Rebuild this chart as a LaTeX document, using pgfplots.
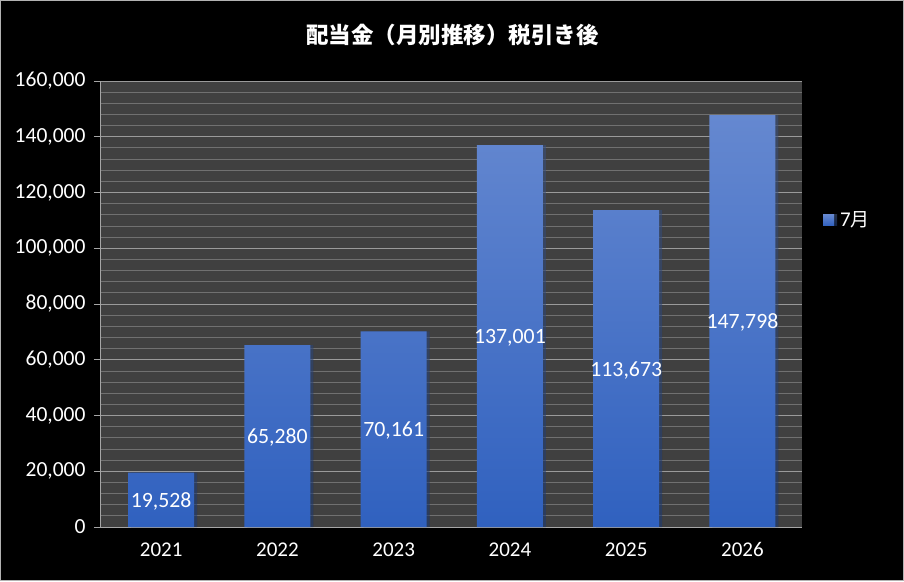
\documentclass[border=0pt]{standalone}
\usepackage{pgfplots}
\pgfplotsset{compat=1.18}
\usepackage{fontspec}
\setmainfont{Carlito}
\newfontfamily\cjk{Noto Sans CJK JP}
\definecolor{plotbg}{HTML}{404040}
\definecolor{gridmaj}{HTML}{9A9A9A}
\definecolor{gridmin}{HTML}{707070}
\definecolor{axisgray}{HTML}{A6A6A6}
\definecolor{bartop}{HTML}{6588D0}
\definecolor{barbot}{HTML}{3061BF}
\begin{document}
\begin{tikzpicture}[x=1pt,y=1pt]
\fill[black] (0,0) rectangle (904,581);
\draw[gray!60, line width=0.8pt] (0.4,0.4) rectangle (903.6,580.6);
\useasboundingbox (0,0) rectangle (904,581);
\node[text=white, font=\fontsize{22.5}{27}\selectfont\cjk\bfseries, inner sep=0pt] at (452.5,546.5) {配当金（月別推移）税引き後};
\begin{axis}[
  at={(100pt,54pt)}, anchor=south west,
  scale only axis, width=702pt, height=446pt,
  xmin=-0.526, xmax=5.512,
  ymin=0, ymax=160000,
  ytick={0,20000,...,160000},
  minor y tick num=4,
  xtick={0,1,2,3,4,5},
  xticklabels={2021,2022,2023,2024,2025,2026},
  scaled y ticks=false,
  axis background/.style={fill=plotbg},
  axis lines=left,
  axis line style={draw=axisgray, line width=0.9pt, -},
  ymajorgrids, yminorgrids,
  major grid style={draw=gridmaj, line width=0.8pt},
  minor grid style={draw=gridmin, line width=0.8pt},
  tick align=outside,
  major tick length=6pt,
  minor tick length=0pt,
  ytick style={draw=axisgray, line width=0.8pt},
  xtick style={draw=none},
  /pgf/number format/assume math mode=true,
  yticklabel style={text=white, xshift=-5pt, font=\fontsize{21.5}{25}\selectfont, /pgf/number format/.cd, fixed, 1000 sep={,}},
  xticklabel style={text=white, yshift=-6pt, font=\fontsize{21}{25}\selectfont},
  legend style={at={(1,0.688)}, anchor=west, xshift=18pt, draw=none, fill=none, text=white, font=\fontsize{21}{25}\selectfont, legend cell align=left},
  legend image code/.code={\fill[top color=bartop, bottom color=barbot] (0pt,-5.5pt) rectangle (11pt,5.5pt);},
]
\addplot[ybar, bar width=66pt, draw=none, top color=bartop, bottom color=barbot,
  preaction={fill=black, opacity=0.35, transform canvas={shift={(3pt,0pt)}}},
  visualization depends on={rawy/2 \as \myhalf},
  nodes near coords={\pgfmathprintnumber[fixed,1000 sep={,},assume math mode=true]{\pgfplotspointmeta}},
  every node near coord/.append style={anchor=center, text=white, font=\fontsize{21.8}{25}\selectfont, shift={(axis direction cs:0,-\myhalf)}, yshift=-1.5pt},
] coordinates {(0,19528) (1,65280) (2,70161) (3,137001) (4,113673) (5,147798)};
\addlegendentry{\hspace{4pt}7{\cjk\fontsize{19}{25}\selectfont 月}}
\end{axis}
\end{tikzpicture}
\end{document}
